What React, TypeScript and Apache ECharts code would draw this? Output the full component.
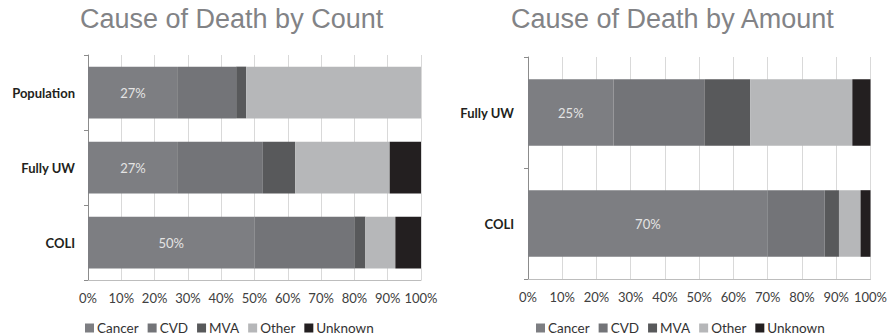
import React, { useEffect, useRef } from "react";
import * as echarts from "echarts";

// Share of deaths by cause (percent of total)
const causes = ["Cancer", "CVD", "MVA", "Other", "Unknown"];
const causeColors = ["#7d7e82", "#737478", "#58595b", "#b6b7b9", "#231f20"];

// By count
const countCategories = ["Population", "Fully UW", "COLI"];
const cancerCount = [27, 27, 50];
const cvdCount = [17.5, 25.5, 30];
const mvaCount = [3, 9.7, 3.3];
const otherCount = [52.5, 28.4, 9];
const unknownCount = [0, 9.4, 7.7];

// By amount
const amountCategories = ["Fully UW", "COLI"];
const cancerAmount = [25, 70];
const cvdAmount = [26.5, 16.6];
const mvaAmount = [13.4, 4.2];
const otherAmount = [29.8, 6.3];
const unknownAmount = [5.3, 2.9];

const titles = ["Cause of Death by Count", "Cause of Death by Amount"];
const percentTicks = { min: 0, max: 100, interval: 10 };

const LABEL_FONT = "Lato, 'Noto Sans', sans-serif";

function buildSeries(gridIndex: number, values: number[][], gap: string) {
  return causes.map((name, i) => ({
    name,
    type: "bar",
    stack: "total" + gridIndex,
    xAxisIndex: gridIndex,
    yAxisIndex: gridIndex,
    barCategoryGap: gap,
    data: values[i],
    itemStyle: { color: causeColors[i] },
    label:
      i === 0
        ? {
            show: true,
            position: "inside",
            formatter: (p: any) => Math.round(p.value) + "%",
            color: "#e4e4e4",
            fontSize: 13,
            fontFamily: LABEL_FONT,
          }
        : { show: false },
  }));
}

function xAxis(gridIndex: number) {
  return {
    type: "value",
    gridIndex,
    ...percentTicks,
    axisLine: { show: true, lineStyle: { color: "#bdbdbd", width: 1 } },
    axisTick: { show: false },
    splitLine: { show: true, lineStyle: { color: "#d9d9d9", width: 1 } },
    axisLabel: {
      formatter: "{value}%",
      color: "#404040",
      fontSize: 13,
      fontFamily: LABEL_FONT,
      margin: 11,
    },
  };
}

function yAxis(gridIndex: number, data: string[], margin: number) {
  return {
    type: "category",
    gridIndex,
    data,
    inverse: true,
    axisLine: { show: true, lineStyle: { color: "#8c8c8c", width: 1 } },
    axisTick: { show: true, length: 4, lineStyle: { color: "#8c8c8c" } },
    splitLine: { show: false },
    axisLabel: {
      color: "#231f20",
      fontSize: 13,
      fontWeight: "bold",
      fontFamily: LABEL_FONT,
      margin,
    },
  };
}

function legend(left: number) {
  return {
    left,
    top: 321,
    padding: 0,
    itemWidth: 9,
    itemHeight: 9,
    itemGap: 9,
    icon: "rect",
    selectedMode: false,
    data: causes,
    textStyle: {
      color: "#333333",
      fontSize: 13.5,
      fontFamily: LABEL_FONT,
      padding: [0, 0, 0, -2],
    },
  };
}

export default function App() {
  const ref = useRef<HTMLDivElement>(null);

  useEffect(() => {
    if (!ref.current) return;
    const chart = echarts.init(ref.current, undefined, { renderer: "svg" });
    const titleStyle = {
      fontFamily: "'Liberation Sans', Arial, sans-serif",
      fontSize: 27,
      fontWeight: "normal",
      color: "#828386",
    };
    chart.setOption({
      animation: false,
      backgroundColor: "#ffffff",
      title: [
        { text: titles[0], left: 80, top: 5, padding: 0, textStyle: titleStyle },
        { text: titles[1], left: 511, top: 5, padding: 0, textStyle: titleStyle },
      ],
      legend: [legend(85), legend(536)],
      grid: [
        { left: 88, right: 469, top: 55, bottom: 55 },
        { left: 528, right: 17, top: 57, bottom: 56 },
      ],
      xAxis: [xAxis(0), xAxis(1)],
      yAxis: [yAxis(0, countCategories, 13), yAxis(1, amountCategories, 14)],
      series: [
        ...buildSeries(
          0,
          [cancerCount, cvdCount, mvaCount, otherCount, unknownCount],
          "31%"
        ),
        ...buildSeries(
          1,
          [cancerAmount, cvdAmount, mvaAmount, otherAmount, unknownAmount],
          "40%"
        ),
      ],
    });
    return () => chart.dispose();
  }, []);

  return (
    <div
      ref={ref}
      style={{ position: "fixed", left: 0, top: 0, width: 890, height: 335 }}
    />
  );
}
